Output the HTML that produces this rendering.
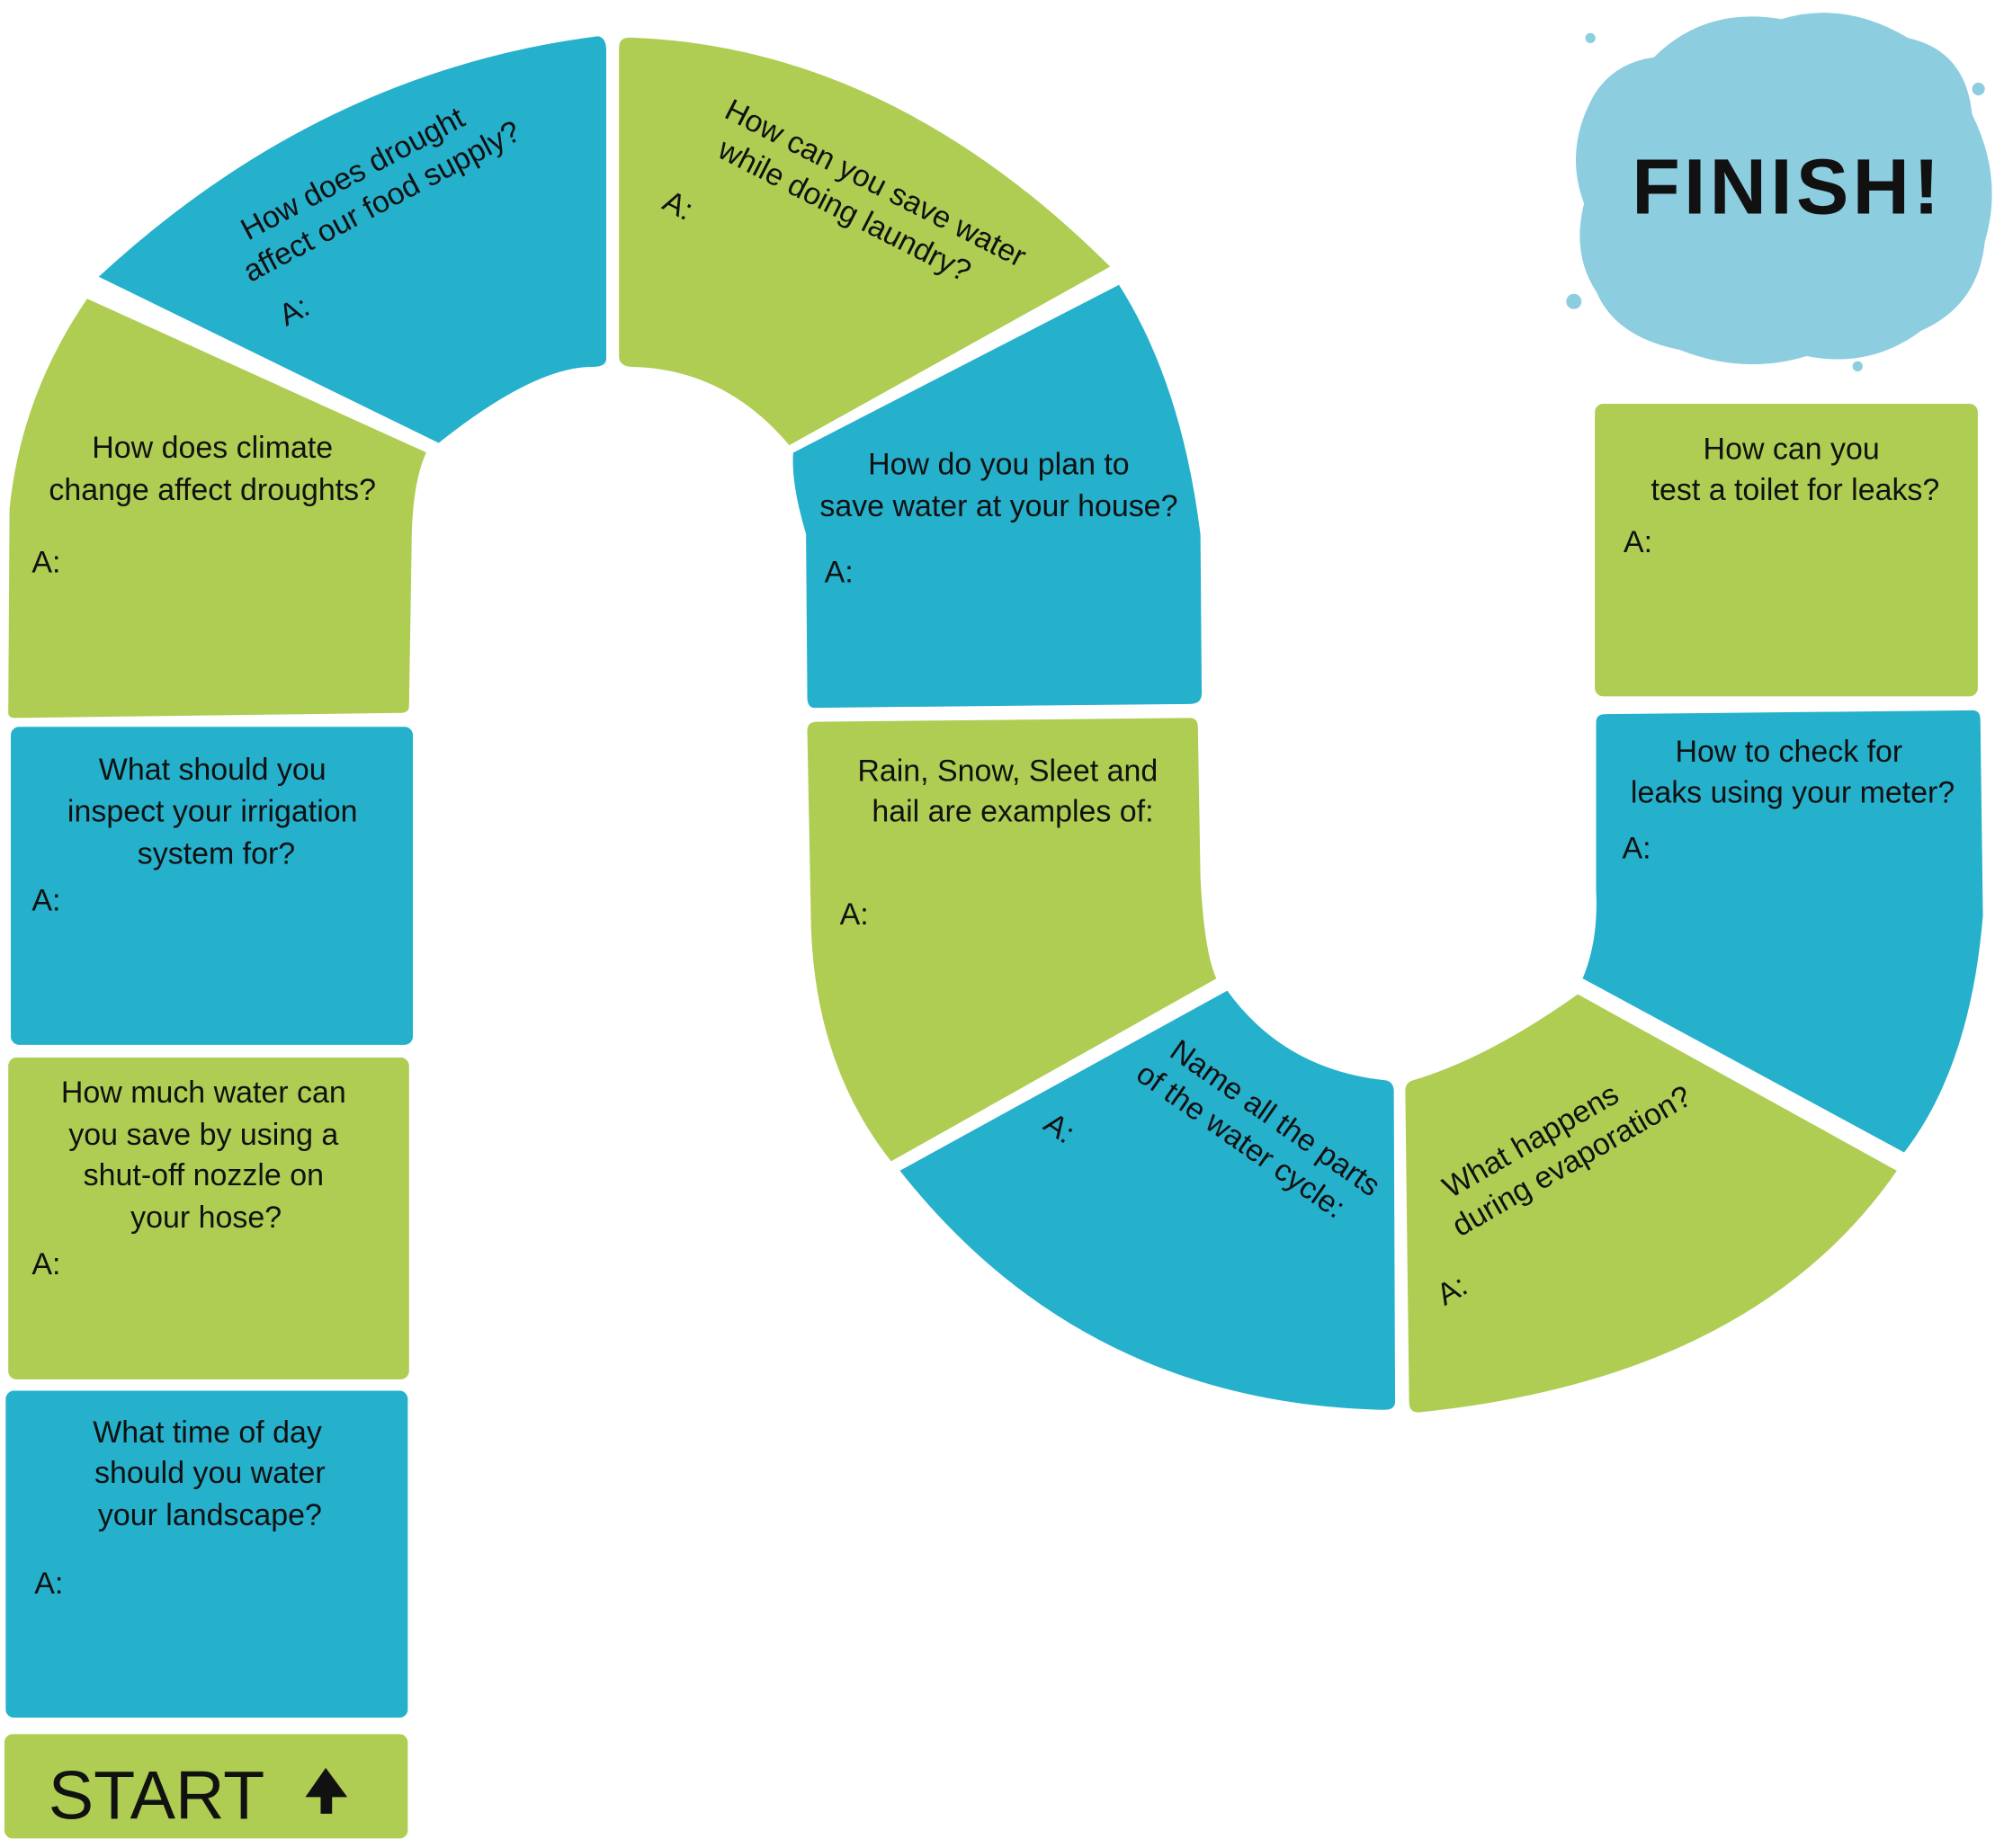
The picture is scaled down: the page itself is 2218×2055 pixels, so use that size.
<!DOCTYPE html>
<html><head><meta charset="utf-8"><style>
html,body{margin:0;padding:0;background:#fff;}
svg{display:block;}
text{font-family:"Liberation Sans",sans-serif;font-size:24px;fill:#111;}
.c{text-anchor:middle;}
</style></head><body>
<svg width="2218" height="2055" viewBox="0 0 1568 1453" preserveAspectRatio="none">
<g stroke="#fff" stroke-width="3" stroke-linejoin="round">
<path fill="#8ccde0" stroke="none" d="M1300,45 Q1340,5 1400,15 Q1450,0 1500,30 Q1545,40 1550,90 Q1575,140 1560,190 Q1555,240 1510,260 Q1470,290 1420,280 Q1370,295 1320,275 Q1270,265 1255,230 Q1235,200 1245,160 Q1230,120 1250,80 Q1265,50 1300,45 Z"/>
<circle cx="1237" cy="237" r="6" fill="#8ccde0" stroke="none"/>
<circle cx="1555" cy="70" r="5" fill="#8ccde0" stroke="none"/>
<circle cx="1460" cy="288" r="4" fill="#8ccde0" stroke="none"/>
<circle cx="1250" cy="30" r="4" fill="#8ccde0" stroke="none"/>
<rect x="2" y="1362" width="320" height="85" rx="8" fill="#aecd52"/>
<rect x="3" y="1092" width="319" height="260" rx="8" fill="#25b0cc"/>
<rect x="5" y="830" width="318" height="256" rx="8" fill="#aecd52"/>
<rect x="7" y="570" width="319" height="253" rx="8" fill="#25b0cc"/>
<path fill="#aecd52" d="M5,560 L6,400 Q15,310 68,233 L337,355 Q325,380 325,430 L323,555 Q323,562 315,562 L12,566 Q5,566 5,560 Z"/>
<path fill="#25b0cc" d="M75,218 Q250,55 470,27 Q478,28 478,40 L478,282 Q478,290 465,290 Q420,290 345,350 Z"/>
<path fill="#aecd52" d="M485,38 Q485,28 495,28 Q700,35 875,210 L620,352 Q570,292 498,290 Q485,290 485,280 Z"/>
<path fill="#25b0cc" d="M622,355 L880,222 Q930,300 945,420 L946,545 Q946,555 935,555 L640,558 Q633,558 633,548 L632,420 Q620,380 622,355 Z"/>
<path fill="#aecd52" d="M633,575 Q633,566 642,566 L935,563 Q943,563 943,572 L945,690 Q948,750 958,770 L700,915 Q640,840 636,730 Z"/>
<path fill="#25b0cc" d="M705,920 L965,777 Q1010,840 1090,848 Q1097,850 1097,858 L1098,1102 Q1098,1110 1088,1110 Q850,1105 705,920 Z"/>
<path fill="#aecd52" d="M1103,858 Q1103,850 1110,848 Q1170,830 1240,780 L1493,920 Q1380,1085 1115,1112 Q1106,1112 1106,1102 Z"/>
<path fill="#25b0cc" d="M1253,568 Q1253,560 1262,560 L1550,557 Q1558,557 1558,566 L1560,720 Q1550,840 1497,908 L1242,770 Q1255,740 1253,700 Z"/>
<rect x="1252" y="316" width="304" height="233" rx="8" fill="#aecd52"/>
</g>
<text x="1405" y="168" class="c" style="font-size:62px;font-weight:bold;letter-spacing:3px;">FINISH!</text>
<text x="38" y="1430" style="font-size:54px;" textLength="170" lengthAdjust="spacingAndGlyphs">START</text>
<path d="M256,1390 L240,1413 L252,1413 L252,1426 L261,1426 L261,1413 L273,1413 Z" fill="#111"/>
<text class="c"><tspan x="163" y="1134">What time of day</tspan><tspan x="165" y="1166">should you water</tspan><tspan x="165" y="1199">your landscape?</tspan></text>
<text x="27" y="1253">A:</text>
<text class="c"><tspan x="160" y="867">How much water can</tspan><tspan x="160" y="900">you save by using a</tspan><tspan x="160" y="932">shut-off nozzle on</tspan><tspan x="162" y="965">your hose?</tspan></text>
<text x="25" y="1002">A:</text>
<text class="c"><tspan x="167" y="613">What should you</tspan><tspan x="167" y="646">inspect your irrigation</tspan><tspan x="170" y="679">system for?</tspan></text>
<text x="25" y="716">A:</text>
<text class="c"><tspan x="167" y="360">How does climate</tspan><tspan x="167" y="393">change affect droughts?</tspan></text>
<text x="25" y="450">A:</text>
<g transform="rotate(-28 290 150)"><text class="c"><tspan x="285" y="140">How does drought</tspan><tspan x="295" y="170">affect our food supply?</tspan></text></g>
<text x="220" y="253" transform="rotate(-28 230 245)">A:</text>
<g transform="rotate(27 680 160)"><text class="c"><tspan x="680" y="150">How can you save water</tspan><tspan x="668" y="180">while doing laundry?</tspan></text></g>
<text x="522" y="168" transform="rotate(27 530 160)">A:</text>
<text class="c"><tspan x="785" y="373">How do you plan to</tspan><tspan x="785" y="406">save water at your house?</tspan></text>
<text x="648" y="458">A:</text>
<text class="c"><tspan x="792" y="614">Rain, Snow, Sleet and</tspan><tspan x="796" y="646">hail are examples of:</tspan></text>
<text x="660" y="727">A:</text>
<g transform="rotate(35 985 895)"><text class="c"><tspan x="990" y="880">Name all the parts</tspan><tspan x="978" y="910">of the water cycle:</tspan></text></g>
<text x="822" y="893" transform="rotate(35 830 885)">A:</text>
<g transform="rotate(-30 1225 905)"><text class="c"><tspan x="1210" y="895">What happens</tspan><tspan x="1230" y="925">during evaporation?</tspan></text></g>
<text x="1130" y="1023" transform="rotate(-30 1140 1015)">A:</text>
<text class="c"><tspan x="1406" y="599">How to check for</tspan><tspan x="1409" y="631">leaks using your meter?</tspan></text>
<text x="1275" y="675">A:</text>
<text class="c"><tspan x="1408" y="361">How can you</tspan><tspan x="1411" y="393">test a toilet for leaks?</tspan></text>
<text x="1276" y="434">A:</text>
</svg>
</body></html>
